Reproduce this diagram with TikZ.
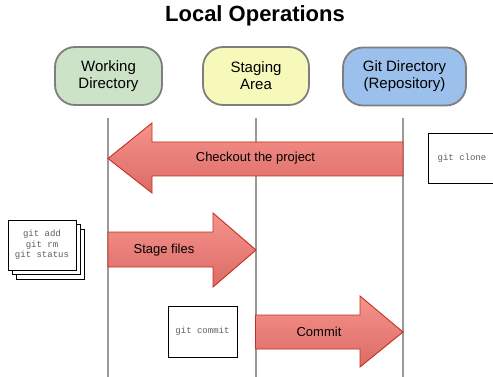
\documentclass[tikz,border=0pt]{standalone}
\usepackage{fontspec}
\setmainfont{Liberation Sans}
\newfontfamily\codefont{Liberation Mono}
\begin{document}
\begin{tikzpicture}[x=1pt,y=-1pt,
  area/.style={draw=arealine, line width=1.8pt, rounded corners=20pt,
    minimum height=58pt, align=center, inner sep=0pt,
    font=\fontsize{15}{17}\selectfont},
  lifeline/.style={draw=lifegray, line width=2pt},
  blockarrow/.style={draw=arrowline, line width=0.9pt, line join=miter,
    top color=arrowtop, bottom color=arrowbot},
  arrowlabel/.style={font=\fontsize{13}{15}\selectfont, text=black},
  cmdbox/.style={draw=black, line width=0.8pt, fill=white},
  cmdtext/.style={font=\codefont\fontsize{9}{10.5}\selectfont, text=cmdgray, align=center}
]
\definecolor{arealine}{HTML}{7E7E7E}
\definecolor{lifegray}{HTML}{9A9A9A}
\definecolor{arrowline}{HTML}{C4301F}
\definecolor{arrowtop}{HTML}{F6928C}
\definecolor{arrowbot}{HTML}{DC6B66}
\definecolor{cmdgray}{HTML}{5E5E5E}
\definecolor{workfill}{HTML}{CCE3C8}
\definecolor{stagefill}{HTML}{F6F9BA}
\definecolor{repofill}{HTML}{9CC0EC}

\useasboundingbox (0,0) rectangle (493,377);
\clip (0,0) rectangle (493,377);

% title
\node[font=\fontsize{22}{24}\selectfont\bfseries] (title) at (255,16) {Local Operations};

% the three areas
\node[area, fill=workfill, minimum width=107pt] (work) at (108.5,76) {Working\\Directory};
\node[area, fill=stagefill, minimum width=106pt] (stage) at (256,76) {Staging\\Area};
\node[area, fill=repofill, minimum width=123pt] (repo) at (404.5,76.5) {Git Directory\\(Repository)};

% lifelines
\coordinate (workTop) at (108,118);  \coordinate (workBot) at (108,380);
\coordinate (stageTop) at (255.5,118); \coordinate (stageBot) at (255.5,380);
\coordinate (repoTop) at (403,118);  \coordinate (repoBot) at (403,380);
\draw[lifeline] (workTop) -- (workBot);
\draw[lifeline] (stageTop) -- (stageBot);
\draw[lifeline] (repoTop) -- (repoBot);

% block arrows, drawn over the lifelines
\path[blockarrow] (403,142) -- (152,142) -- (152,123) -- (108,158.5)
  -- (152,193) -- (152,176) -- (403,176) -- cycle;
\node[arrowlabel] (checkout) at (255.5,158) {Checkout the project};

\path[blockarrow] (108,232) -- (213,232) -- (213,213) -- (256,250)
  -- (213,287) -- (213,267) -- (108,267) -- cycle;
\node[arrowlabel] (stagefiles) at (164,250) {Stage files};

\path[blockarrow] (255.5,315) -- (360,315) -- (360,296) -- (403,332)
  -- (360,367) -- (360,349) -- (255.5,349) -- cycle;
\node[arrowlabel] (commit) at (319,332) {Commit};

% command boxes
\draw[cmdbox] (428,133) rectangle (500,183);
\node[cmdtext] (clone) at (462,158) {git clone};

\draw[cmdbox] (16,229) rectangle (84,279);
\draw[cmdbox] (12,224.5) rectangle (80,274.5);
\draw[cmdbox] (8,220) rectangle (76,270);
\node[cmdtext] (addrm) at (42,245) {git add\\git rm\\git status};

\draw[cmdbox] (168,306) rectangle (237,357);
\node[cmdtext] (gcommit) at (202.5,331.5) {git commit};
\end{tikzpicture}
\end{document}
